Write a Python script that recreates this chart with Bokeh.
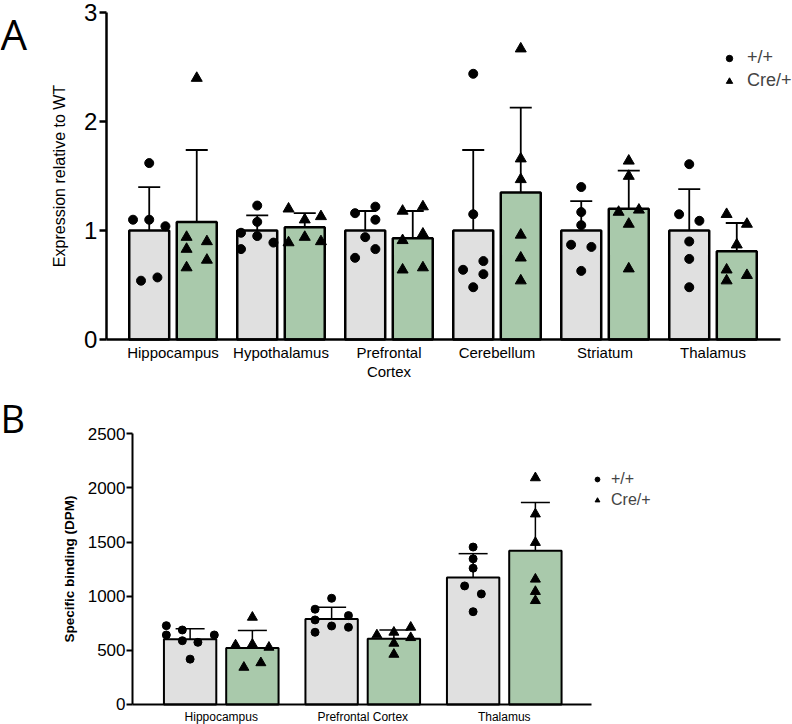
from bokeh.plotting import figure
from bokeh.models import (Range1d, FixedTicker, ColumnDataSource, Whisker, TeeHead,
                          Legend, LegendItem, Label)
from bokeh.layouts import column
from bokeh.embed import file_html
from bokeh.resources import INLINE

FONT = "Liberation Sans"
WT_FILL = "#e0e0e0"
CRE_FILL = "#a9c9ab"

# ---------------- Panel A data ----------------
regions_a = ["Hippocampus", "Hypothalamus", "Prefrontal\nCortex", "Cerebellum", "Striatum", "Thalamus"]
wt_mean_a = [1.00, 1.00, 1.00, 1.00, 1.00, 1.00]
wt_sd_a = [0.40, 0.14, 0.18, 0.74, 0.27, 0.38]
cre_mean_a = [1.08, 1.03, 0.93, 1.35, 1.20, 0.81]
cre_sd_a = [0.66, 0.13, 0.25, 0.78, 0.35, 0.26]

wt_pts_a = [
    [1.62, 1.10, 1.10, 1.04, 0.54, 0.57],
    [1.23, 1.08, 0.98, 0.95, 0.89, 0.83],
    [1.16, 1.22, 1.10, 0.94, 0.83, 0.75],
    [2.44, 1.15, 0.72, 0.64, 0.60, 0.48],
    [1.40, 1.17, 1.05, 0.87, 0.85, 0.63],
    [1.61, 1.15, 1.09, 0.90, 0.74, 0.48],
]
wt_jit_a = [
    [0, -0.15, 0, 0.15, -0.076, 0.076],
    [0, 0, -0.15, 0, 0.15, -0.15],
    [-0.094, 0.094, 0.094, 0, 0.094, -0.094],
    [0, 0, 0.094, -0.094, 0.094, 0],
    [0, 0, 0, -0.094, 0.094, 0],
    [0, -0.094, 0.094, 0, 0, 0],
]
cre_pts_a = [
    [2.40, 0.94, 0.90, 0.83, 0.73, 0.66],
    [1.20, 1.10, 1.13, 0.94, 0.89, 0.90],
    [1.18, 1.22, 0.91, 0.97, 0.64, 0.66],
    [2.67, 1.66, 1.47, 0.96, 0.75, 0.54],
    [1.64, 1.50, 1.17, 1.19, 1.06, 0.65],
    [1.15, 1.06, 0.87, 0.64, 0.59, 0.54],
]
cre_jit_a = [
    [0, -0.094, 0.094, -0.094, 0.094, -0.094],
    [-0.15, 0, 0.15, 0, -0.15, 0.15],
    [-0.094, 0.094, -0.094, 0.094, -0.094, 0.094],
    [0, 0, 0, 0, 0, 0],
    [0, 0, -0.094, 0.094, 0, 0],
    [-0.094, 0.094, 0, -0.094, 0.094, -0.094],
]
yticks_a = [0, 1, 2, 3]

# ---------------- Panel B data ----------------
regions_b = ["Hippocampus", "Prefrontal Cortex", "Thalamus"]
wt_mean_b = [603, 790, 1172]
wt_sd_b = [97, 108, 221]
cre_mean_b = [522, 607, 1420]
cre_sd_b = [162, 81, 445]

wt_pts_b = [
    [728, 688, 642, 589, 574, 642, 419],
    [981, 880, 821, 781, 725, 713, 667],
    [1454, 1345, 1259, 1095, 1021, 857],
]
wt_jit_b = [
    [-0.168, -0.055, -0.168, -0.055, 0.055, 0.171, 0],
    [0, -0.117, 0.119, -0.117, 0, 0.119, -0.117],
    [0, 0, 0, -0.06, 0.058, 0],
]
cre_pts_b = [
    [805, 549, 556, 528, 343, 385],
    [642, 667, 713, 617, 565, 463],
    [2093, 1759, 1496, 1157, 1043, 959],
]
cre_jit_b = [
    [0, -0.119, 0, 0.117, -0.06, 0.06],
    [-0.12, 0, 0.119, 0.119, 0, 0],
    [0, 0, 0, 0, 0, 0],
]
yticks_b = [0, 500, 1000, 1500, 2000, 2500]

OFFSET = 0.22
BAR_W = 0.37


def flatten(pts, jit, base_off):
    xs, ys = [], []
    for i, (vals, js) in enumerate(zip(pts, jit)):
        for v, j in zip(vals, js):
            xs.append(i + base_off + j)
            ys.append(v)
    return xs, ys


def build(p, regions, wt_mean, wt_sd, cre_mean, cre_sd, wt_pts, wt_jit, cre_pts, cre_jit,
          line_w, head, msize_c, msize_t, wl):
    n = len(regions)
    xw = [i - OFFSET for i in range(n)]
    xc = [i + OFFSET for i in range(n)]
    p.vbar(x=xw, top=wt_mean, width=BAR_W, fill_color=WT_FILL, line_color="black", line_width=line_w)
    p.vbar(x=xc, top=cre_mean, width=BAR_W, fill_color=CRE_FILL, line_color="black", line_width=line_w)
    for xs, m, s in ((xw, wt_mean, wt_sd), (xc, cre_mean, cre_sd)):
        src = ColumnDataSource(dict(x=xs, upper=[a + b for a, b in zip(m, s)],
                                    lower=[a - b for a, b in zip(m, s)]))
        w = Whisker(base="x", upper="upper", lower="lower", source=src,
                    line_width=wl, line_color="black",
                    upper_head=TeeHead(size=head, line_width=wl, line_color="black"),
                    lower_head=TeeHead(size=head, line_width=wl, line_color="black"))
        p.add_layout(w)
    wx, wy = flatten(wt_pts, wt_jit, -OFFSET)
    cx, cy = flatten(cre_pts, cre_jit, OFFSET)
    r1 = p.scatter(wx, wy, marker="circle", size=msize_c, color="black")
    r2 = p.scatter(cx, cy, marker="triangle", size=msize_t, color="black")
    return r1, r2


def style(p, ticks_y, regions, lw, ytick_size, xlab_size, ylabel, ylabel_size, ylabel_style,
          ylabel_standoff, ytick_standoff, xtick_standoff, tick_out, x_first, x_last, y_top):
    p.xgrid.visible = False
    p.ygrid.visible = False
    p.outline_line_color = None
    p.background_fill_color = "white"
    ya = p.yaxis[0]
    ya.fixed_location = x_first
    ya.bounds = (ticks_y[0], y_top)
    ya.ticker = FixedTicker(ticks=ticks_y)
    ya.axis_line_width = lw
    ya.axis_line_color = "black"
    ya.major_tick_line_width = lw
    ya.major_tick_line_color = "black"
    ya.major_tick_out = tick_out
    ya.major_tick_in = 0
    ya.minor_tick_out = 0
    ya.minor_tick_in = 0
    ya.major_label_text_font = FONT
    ya.major_label_text_font_size = ytick_size
    ya.major_label_text_color = "black"
    ya.major_label_standoff = ytick_standoff
    ya.axis_label = ylabel
    ya.axis_label_text_font = FONT
    ya.axis_label_text_font_size = ylabel_size
    ya.axis_label_text_font_style = ylabel_style
    ya.axis_label_text_color = "black"
    ya.axis_label_standoff = ylabel_standoff
    xa = p.xaxis[0]
    xa.fixed_location = ticks_y[0]
    xa.bounds = (x_first, x_last)
    xa.ticker = FixedTicker(ticks=list(range(len(regions))))
    xa.major_label_overrides = {i: r for i, r in enumerate(regions)}
    xa.axis_line_width = lw
    xa.axis_line_color = "black"
    xa.major_tick_out = 0
    xa.major_tick_in = 0
    xa.minor_tick_out = 0
    xa.minor_tick_in = 0
    xa.major_label_text_font = FONT
    xa.major_label_text_font_size = xlab_size
    xa.major_label_text_color = "black"
    xa.major_label_text_line_height = 1.1
    xa.major_label_standoff = xtick_standoff


# ---------------- Panel A ----------------
XA0, XA1 = -0.616, 5.625
pa = figure(width=792, height=380, x_range=Range1d(-1.597, 5.736), y_range=Range1d(-0.3765, 3.113),
            output_backend="svg", toolbar_location=None,
            min_border_left=0, min_border_right=0, min_border_top=0, min_border_bottom=0)
ra1, ra2 = build(pa, regions_a, wt_mean_a, wt_sd_a, cre_mean_a, cre_sd_a,
                 wt_pts_a, wt_jit_a, cre_pts_a, cre_jit_a, 2.5, 22, 9, 11, 1.8)
style(pa, yticks_a, regions_a, 2.5, "24px", "15px", "Expression relative to WT", "16px", "normal",
      13, 2, 5, 7, XA0, XA1, 3)
leg_a = Legend(items=[LegendItem(label="+/+", renderers=[ra1]),
                      LegendItem(label="Cre/+", renderers=[ra2])],
               location=(721, 289), border_line_color=None, background_fill_alpha=0,
               label_text_font=FONT, label_text_font_size="18px", glyph_width=16, glyph_height=18,
               label_height=18, label_standoff=10, spacing=2, padding=0, margin=0)
pa.add_layout(leg_a)
pa.add_layout(Label(x=0, y=347, x_units="screen", y_units="screen", text="A",
                    text_font="Open Sans", text_font_size="42px", text_baseline="alphabetic",
                    text_align="left", text_color="black"))

# ---------------- Panel B ----------------
XB0, XB1 = -0.627, 2.617
pb = figure(width=792, height=344, x_range=Range1d(-1.560, 4.037), y_range=Range1d(-184.7, 2992),
            output_backend="svg", toolbar_location=None,
            min_border_left=0, min_border_right=0, min_border_top=0, min_border_bottom=0)
rb1, rb2 = build(pb, regions_b, wt_mean_b, wt_sd_b, cre_mean_b, cre_sd_b,
                 wt_pts_b, wt_jit_b, cre_pts_b, cre_jit_b, 2.0, 29, 8, 10, 1.5)
style(pb, yticks_b, regions_b, 2.0, "17px", "12px", "Specific binding (DPM)", "13.5px", "bold",
      8, 1, 6, 6, XB0, XB1, 2500)
leg_b = Legend(items=[LegendItem(label="+/+", renderers=[rb1]),
                      LegendItem(label="Cre/+", renderers=[rb2])],
               location=(591, 215), border_line_color=None, background_fill_alpha=0,
               label_text_font=FONT, label_text_font_size="16px", glyph_width=12, glyph_height=16,
               label_height=16, label_standoff=8, spacing=3, padding=0, margin=0)
pb.add_layout(leg_b)
pb.add_layout(Label(x=0, y=307, x_units="screen", y_units="screen", text="B",
                    text_font="Open Sans", text_font_size="38px", text_baseline="alphabetic",
                    text_align="left", text_color="black"))

layout = column(pa, pb, spacing=0)
open("out.html", "w").write(file_html(layout, INLINE))
